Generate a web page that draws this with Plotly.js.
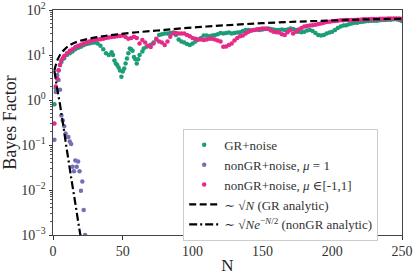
<!DOCTYPE html>
<html><head><meta charset="utf-8">
<script src="https://cdn.plot.ly/plotly-3.0.1.min.js"></script>
<style>html,body{margin:0;padding:0;background:#fff}#c{width:416px;height:276px}</style>
</head><body><div id="c"></div>
<script>
// GR+noise
const nGR = [1,2,3,4,5,6,8,10,12,14,16,18,20,22,24,26,28,30,32,34,36,38,40,42,43,44,45,46,47,48,49,50,51,52,53,54,55,56,57,58,59,60,61,62,64,65,67,70,72,74,76,78,80,82,84,86,88,90,92,94,96,98,100,102,104,106,108,110,112,114,116,118,120,122,124,126,128,130,132,134,136,138,140,142,144,146,148,150,152,154,156,158,160,162,164,166,168,170,172,174,176,178,180,182,184,186,188,190,192,194,196,198,200,202,204,206,208,210,212,214,216,218,220,222,224,226,228,230,232,234,236,238,240,242,244,246,248,250];
const vGR = [0.8,1.8,3,4.5,6,7,8.5,10,11,12,13.5,14.5,15.3,16.5,17.5,18,18.8,19,18,16,13.5,11,10,11.5,10,7.5,6.5,6,5.3,4.5,3.3,4.3,5,6.5,8.4,11,14,13.5,12.5,9,8,6.5,8,10,12,14,15.3,17,19,22,28,29,30,30,31,31.6,28,22,20,19,17.5,16.7,18,20,22,24,27,27,26,27,28,29,31,30,31,31.6,30,31,31.6,32,34,36,36,35,36,37,36,37,38,39,38,37,36,36,37,36,37,39,38,36,33,32,33,35,36,34,31,28,27,28,30,31.6,33,36,40,43,45,46,48,50,52,52,54,55,56,57,58,58,58,59,60,60,61,61,62,62,60,57];
// nonGR+noise, mu = 1
const nMu1 = [1,2,3,4,5,6,7,8,9,10,11,12,13,14,15,16,17,18,19,20,21,22,23];
const vMu1 = [0.13,1.5,3.6,2.8,1.7,0.45,0.35,0.26,0.18,0.15,0.15,0.12,0.105,0.033,0.026,0.045,0.033,0.043,0.026,0.0096,0.0155,0.0036,0.001];
// nonGR+noise, mu in [-1,1]
const nMuR = [1,2,3,4,5,6,7,8,10,12,14,16,18,20,22,24,26,28,30,32,34,36,38,40,42,44,46,48,50,52,54,56,58,60,62,64,66,68,70,72,74,76,78,80,82,84,86,88,90,92,94,96,98,100,102,104,106,108,110,112,114,116,118,120,122,124,126,128,130,132,134,136,138,140,142,144,146,148,150,152,154,156,158,160,162,164,166,168,170,172,174,176,178,180,182,184,186,188,190,192,194,196,198,200,202,204,206,208,210,212,214,216,218,220,222,224,226,228,230,232,234,236,238,240,242,244,246,248,250];
const vMuR = [0.3,2,3,4.6,6,7.5,8.5,9.5,11,12.5,13.5,15,16,17,18,19,20,21,21.5,22,22.5,23,24,24.5,25,25.5,26,26.5,27,25,23,24,25.5,24,18,21.5,19,16,15,18,23,20,19,16.7,20,25.5,30,31,30,30,30,28,26,24,23,22,22,21.5,22,23,23,22,21,20,15.3,15.5,16.7,18,21,24,26,27,30,33,35,36,37,38,39,39,38,35,33,32,31.6,29,28,32,36,30,33,37,40,43,44,45,46,47,49,50,52,54,55,56,57,58,59,59,60,60,60,60,61,61,62,62,62,63,63,63,64,64,64,65,65,65,65,65,64];
// analytic curves
const nLineGR = [1,2,3,5,8,12,18,27,35,46,60,75,90,110,130,150,175,200,225,250];
const vLineGR = [4.5,6,7.5,10,13,16.5,20,23.5,26,28.8,32,35,38.5,43,47,51,55,58.5,62,64];
const nLineNon = [1,2,3,4,5,6,7,8,9,10,11,12,13,14,15,16,17,18,19,20];
const vLineNon = [4.5,2.8,1.8,1.2,0.8,0.5,0.32,0.2,0.12,0.075,0.048,0.03,0.019,0.012,0.0078,0.005,0.0032,0.002,0.0013,0.00085];

const serif = "Liberation Serif, DejaVu Serif, serif";
const traces = [
  {x:nGR, y:vGR, mode:'markers', type:'scatter', name:'GR+noise', marker:{color:'#1b9e77', size:4.5}},
  {x:nMu1, y:vMu1, mode:'markers', type:'scatter', name:'nonGR+noise, <i>μ</i> = 1', marker:{color:'#7570b3', size:4.5}},
  {x:nMuR, y:vMuR, mode:'markers', type:'scatter', name:'nonGR+noise, <i>μ</i> ∈[-1,1]', marker:{color:'#e7298a', size:4.5}},
  {x:nLineGR, y:vLineGR, mode:'lines', type:'scatter', name:'∼ √<i>N</i> (GR analytic)', line:{color:'#000', width:2.2, dash:'7px,3.5px', shape:'spline'}},
  {x:nLineNon, y:vLineNon, mode:'lines', type:'scatter', name:'∼ √<i>N</i><i>e</i><sup>−<i>N</i>/2</sup> (nonGR analytic)', line:{color:'#000', width:2.2, dash:'8px,3px,2px,3px', shape:'spline'}}
];
const minorVals = [];
for (let k=-3;k<2;k++){ for (let m=2;m<10;m++){ minorVals.push(m*Math.pow(10,k)); } }
const layout = {
  width:416, height:276,
  margin:{l:53, r:14, t:10, b:41},
  paper_bgcolor:'#fff', plot_bgcolor:'#fff',
  font:{family:serif, size:12, color:'#222'},
  showlegend:true,
  xaxis:{range:[0,250], tickvals:[0,50,100,150,200,250], ticks:'outside', ticklen:3.5, tickcolor:'#333',
    showline:true, linecolor:'#444', linewidth:1, mirror:true, showgrid:false, zeroline:false,
    tickfont:{family:serif, size:14, color:'#333'},
    title:{text:'N', font:{family:serif, size:17, color:'#222'}, standoff:0}},
  yaxis:{type:'log', range:[-3,2], tickvals:[0.001,0.01,0.1,1,10,100],
    ticktext:['10<sup>−3</sup>','10<sup>−2</sup>','10<sup>−1</sup>','10<sup>0</sup>','10<sup>1</sup>','10<sup>2</sup>'],
    ticks:'outside', ticklen:3.5, tickcolor:'#333',
    minor:{tickvals:minorVals, ticks:'outside', ticklen:2, tickcolor:'#555', showgrid:false},
    showline:true, linecolor:'#444', linewidth:1, mirror:true, showgrid:false, zeroline:false,
    tickfont:{family:serif, size:14, color:'#333'},
    title:{text:'Bayes Factor', font:{family:serif, size:18, color:'#222'}, standoff:2}},
  legend:{x:0.373, y:0.472, xanchor:'left', yanchor:'top', bgcolor:'#fff', bordercolor:'#ccc', borderwidth:1,
    font:{family:serif, size:13, color:'#333'}, itemwidth:30, tracegroupgap:0}
};
Plotly.newPlot('c', traces, layout, {displayModeBar:false, staticPlot:true});
</script></body></html>
